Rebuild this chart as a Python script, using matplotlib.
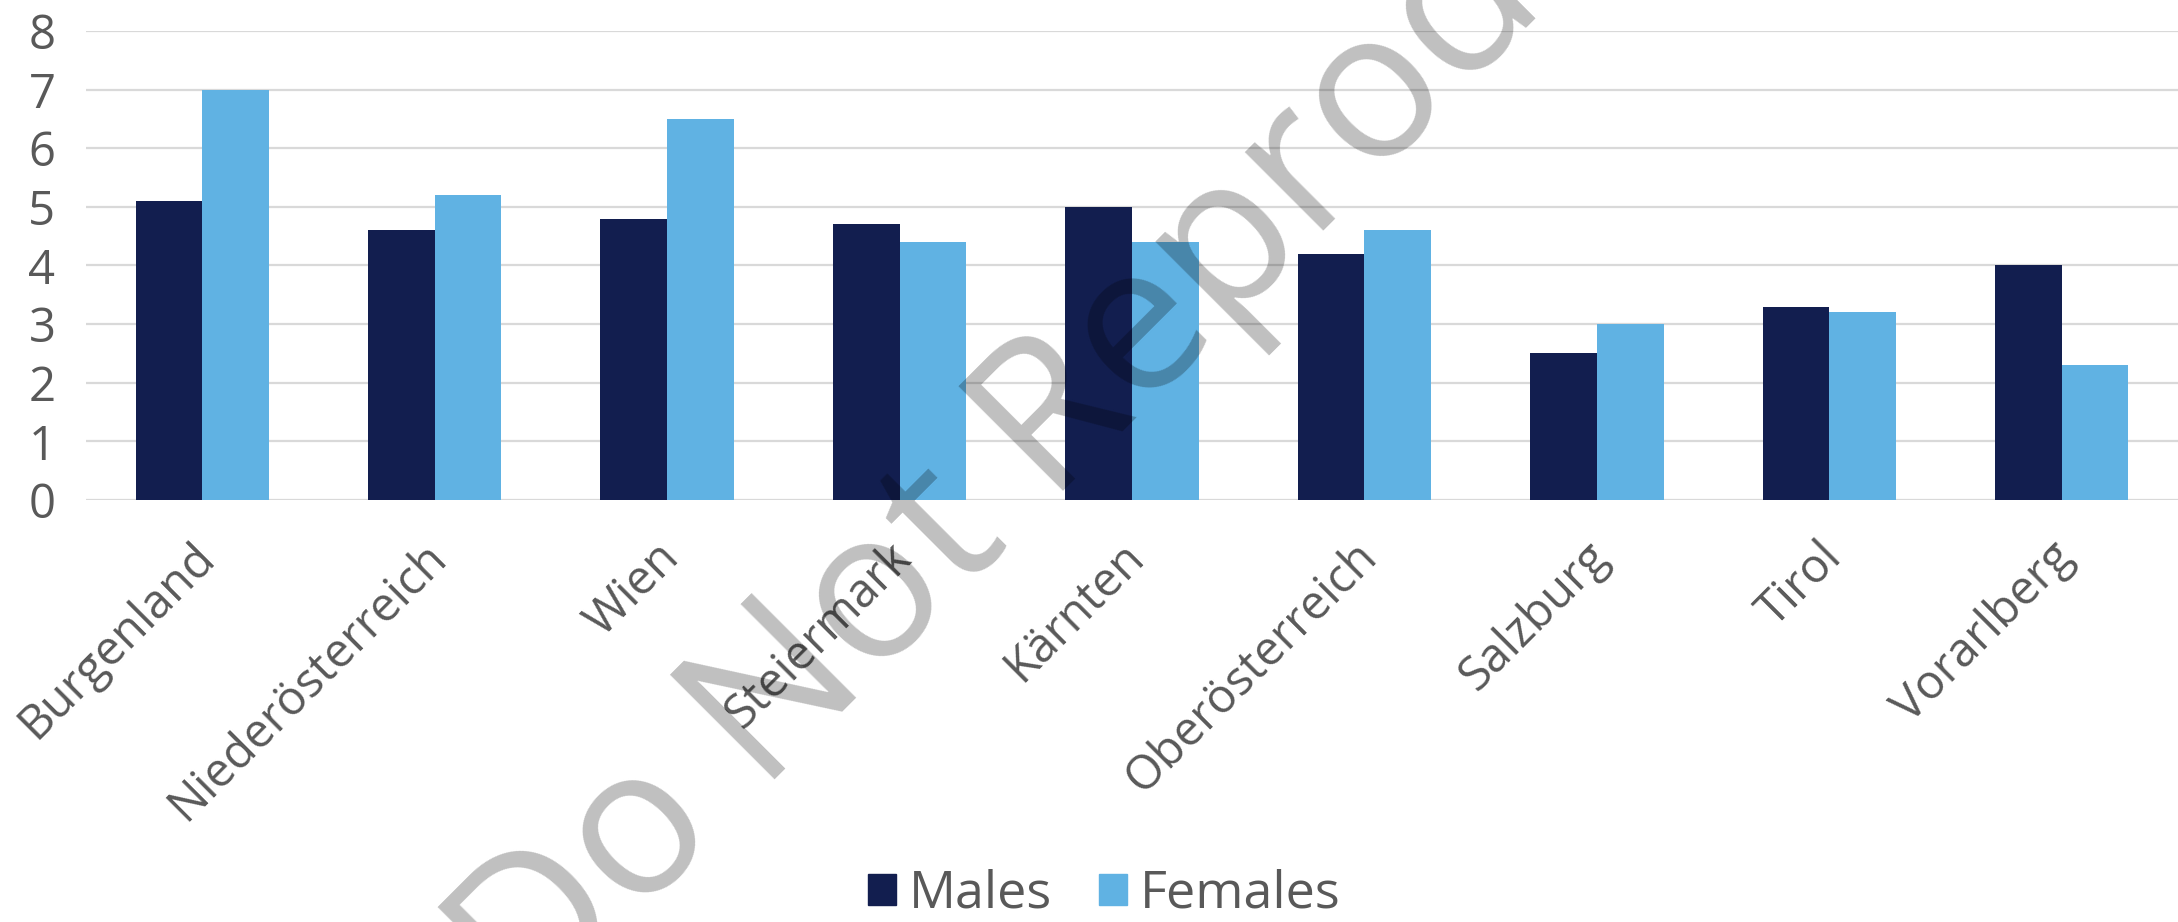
import numpy as np
import matplotlib
matplotlib.use('Agg')
import matplotlib.pyplot as plt
from matplotlib.transforms import ScaledTranslation
from matplotlib.patches import Patch

plt.rcParams['font.family'] = ['Open Sans', 'DejaVu Sans']

# ------------------------ Data ------------------------
regions = ["Burgenland", "Niederösterreich", "Wien", "Steiermark", "Kärnten",
           "Oberösterreich", "Salzburg", "Tirol", "Vorarlberg"]
males = [5.1, 4.6, 4.8, 4.7, 5.0, 4.2, 2.5, 3.3, 4.0]
females = [7.0, 5.2, 6.5, 4.4, 4.4, 4.6, 3.0, 3.2, 2.3]
yticks = [0, 1, 2, 3, 4, 5, 6, 7, 8]

navy = "#121E4F"
lightblue = "#60B2E3"
textcol = "#595959"

# ------------------------ Plotting ------------------------
fig = plt.figure(figsize=(21.78, 9.22), dpi=100)
ax = fig.add_axes([0.0395, 0.4577, 0.9605, 0.5087])

x = np.arange(len(regions))
bw = 0.287
ax.bar(x - bw/2, males, bw, color=navy, zorder=2, label="Males")
ax.bar(x + bw/2, females, bw, color=lightblue, zorder=2, label="Females")

ax.set_xlim(-0.5, len(regions) - 0.5)
ax.set_ylim(0, 8)
ax.set_yticks(yticks)
ax.yaxis.grid(True, color="#D9D9D9", linewidth=1.6, zorder=0)
ax.set_axisbelow(True)
for s in ax.spines.values():
    s.set_visible(False)

ax.tick_params(axis='y', length=0, pad=22, labelsize=34, labelcolor=textcol)
ax.tick_params(axis='x', length=0, pad=36, labelsize=34, labelcolor=textcol)
ax.set_xticks(x, regions, rotation=45, ha='right', va='center', rotation_mode='anchor')
shift = ScaledTranslation(5/100, 0, fig.dpi_scale_trans)
for lab in ax.get_xticklabels():
    lab.set_transform(lab.get_transform() + shift)

handles = [Patch(color=navy, label="Males"), Patch(color=lightblue, label="Females")]
fig.legend(handles=handles, loc='center', bbox_to_anchor=(0.507, 0.03), ncol=2,
           frameon=False, fontsize=37.5, labelcolor=textcol,
           handlelength=0.54, handleheight=0.54, handletextpad=0.25,
           columnspacing=0.9, borderpad=0)

# watermark
fig.text(0.5326, 0.5716, "Do Not Reproduce", fontsize=149, color="black", alpha=0.25,
         rotation=45, rotation_mode='anchor', ha='center', va='baseline', zorder=10)

plt.savefig("out.png", dpi=100)
